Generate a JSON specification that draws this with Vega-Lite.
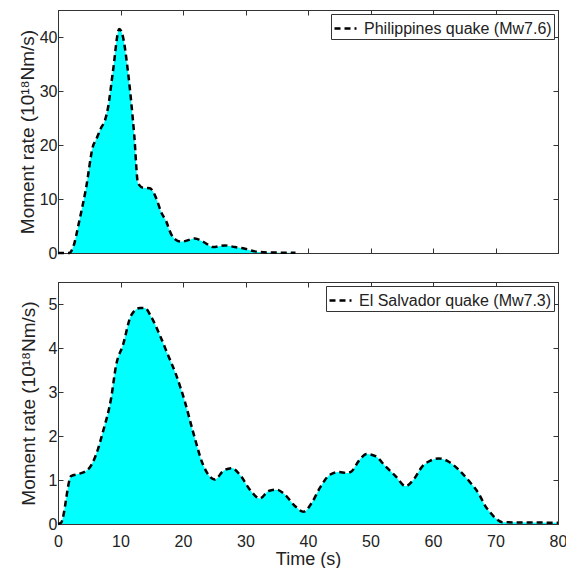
{
  "$schema": "https://vega.github.io/schema/vega-lite/v6.json",
  "padding": {"left": 17, "top": 9, "right": 5, "bottom": 0},
  "spacing": 29,
  "bounds": "flush",
  "config": {
    "font": "Liberation Sans",
    "view": {"stroke": "#333", "strokeWidth": 1},
    "axis": {
      "grid": false,
      "domainColor": "#333",
      "tickColor": "#333",
      "tickSize": -5,
      "labelFont": "Liberation Sans",
      "labelFontSize": 16,
      "labelColor": "#222",
      "labelPadding": 6,
      "titleFont": "Liberation Sans",
      "titleFontWeight": "normal",
      "titleColor": "#222"
    },
    "legend": {
      "orient": "top-right",
      "offset": 4,
      "padding": 2,
      "strokeColor": "#333",
      "fillColor": "white",
      "labelFont": "Liberation Sans",
      "labelFontSize": 16,
      "labelColor": "#222",
      "labelOffset": 6,
      "labelLimit": 0,
      "symbolType": "stroke",
      "symbolSize": 484,
      "symbolStrokeWidth": 2.5,
      "symbolStrokeColor": "black"
    }
  },
  "datasets": {
    "phil": [
      {"t": 0, "v": 0, "quake": "Philippines quake (Mw7.6)"},
      {"t": 1.8, "v": 0, "quake": "Philippines quake (Mw7.6)"},
      {"t": 2.4, "v": 1.0, "quake": "Philippines quake (Mw7.6)"},
      {"t": 3.4, "v": 5.9, "quake": "Philippines quake (Mw7.6)"},
      {"t": 4.5, "v": 12.1, "quake": "Philippines quake (Mw7.6)"},
      {"t": 5.6, "v": 19.8, "quake": "Philippines quake (Mw7.6)"},
      {"t": 6.1, "v": 21.0, "quake": "Philippines quake (Mw7.6)"},
      {"t": 6.9, "v": 23.2, "quake": "Philippines quake (Mw7.6)"},
      {"t": 7.5, "v": 24.5, "quake": "Philippines quake (Mw7.6)"},
      {"t": 8.0, "v": 26.9, "quake": "Philippines quake (Mw7.6)"},
      {"t": 8.8, "v": 33.7, "quake": "Philippines quake (Mw7.6)"},
      {"t": 9.8, "v": 41.5, "quake": "Philippines quake (Mw7.6)"},
      {"t": 10.4, "v": 40.0, "quake": "Philippines quake (Mw7.6)"},
      {"t": 11.2, "v": 33.5, "quake": "Philippines quake (Mw7.6)"},
      {"t": 12.2, "v": 21.8, "quake": "Philippines quake (Mw7.6)"},
      {"t": 12.8, "v": 12.9, "quake": "Philippines quake (Mw7.6)"},
      {"t": 13.6, "v": 12.1, "quake": "Philippines quake (Mw7.6)"},
      {"t": 14.7, "v": 12.0, "quake": "Philippines quake (Mw7.6)"},
      {"t": 15.7, "v": 10.2, "quake": "Philippines quake (Mw7.6)"},
      {"t": 16.5, "v": 7.6, "quake": "Philippines quake (Mw7.6)"},
      {"t": 17.3, "v": 5.9, "quake": "Philippines quake (Mw7.6)"},
      {"t": 18.1, "v": 3.5, "quake": "Philippines quake (Mw7.6)"},
      {"t": 18.9, "v": 2.4, "quake": "Philippines quake (Mw7.6)"},
      {"t": 19.7, "v": 2.1, "quake": "Philippines quake (Mw7.6)"},
      {"t": 20.3, "v": 2.2, "quake": "Philippines quake (Mw7.6)"},
      {"t": 21.9, "v": 2.7, "quake": "Philippines quake (Mw7.6)"},
      {"t": 23.0, "v": 2.2, "quake": "Philippines quake (Mw7.6)"},
      {"t": 23.5, "v": 1.9, "quake": "Philippines quake (Mw7.6)"},
      {"t": 24.8, "v": 1.1, "quake": "Philippines quake (Mw7.6)"},
      {"t": 26.7, "v": 1.4, "quake": "Philippines quake (Mw7.6)"},
      {"t": 28.3, "v": 1.1, "quake": "Philippines quake (Mw7.6)"},
      {"t": 29.9, "v": 0.8, "quake": "Philippines quake (Mw7.6)"},
      {"t": 31.5, "v": 0.3, "quake": "Philippines quake (Mw7.6)"},
      {"t": 33.7, "v": 0.1, "quake": "Philippines quake (Mw7.6)"},
      {"t": 38.0, "v": 0.05, "quake": "Philippines quake (Mw7.6)"}
    ],
    "salv": [
      {"t": 0, "v": 0, "quake": "El Salvador quake (Mw7.3)"},
      {"t": 0.5, "v": 0.03, "quake": "El Salvador quake (Mw7.3)"},
      {"t": 2.1, "v": 1.09, "quake": "El Salvador quake (Mw7.3)"},
      {"t": 3.4, "v": 1.14, "quake": "El Salvador quake (Mw7.3)"},
      {"t": 5.0, "v": 1.27, "quake": "El Salvador quake (Mw7.3)"},
      {"t": 6.1, "v": 1.58, "quake": "El Salvador quake (Mw7.3)"},
      {"t": 7.2, "v": 2.1, "quake": "El Salvador quake (Mw7.3)"},
      {"t": 8.5, "v": 2.86, "quake": "El Salvador quake (Mw7.3)"},
      {"t": 9.3, "v": 3.61, "quake": "El Salvador quake (Mw7.3)"},
      {"t": 10.4, "v": 4.07, "quake": "El Salvador quake (Mw7.3)"},
      {"t": 11.7, "v": 4.74, "quake": "El Salvador quake (Mw7.3)"},
      {"t": 13.1, "v": 4.91, "quake": "El Salvador quake (Mw7.3)"},
      {"t": 13.9, "v": 4.91, "quake": "El Salvador quake (Mw7.3)"},
      {"t": 14.9, "v": 4.71, "quake": "El Salvador quake (Mw7.3)"},
      {"t": 16.3, "v": 4.29, "quake": "El Salvador quake (Mw7.3)"},
      {"t": 17.6, "v": 3.84, "quake": "El Salvador quake (Mw7.3)"},
      {"t": 18.9, "v": 3.39, "quake": "El Salvador quake (Mw7.3)"},
      {"t": 20.3, "v": 2.78, "quake": "El Salvador quake (Mw7.3)"},
      {"t": 21.6, "v": 2.1, "quake": "El Salvador quake (Mw7.3)"},
      {"t": 23.2, "v": 1.35, "quake": "El Salvador quake (Mw7.3)"},
      {"t": 25.1, "v": 1.01, "quake": "El Salvador quake (Mw7.3)"},
      {"t": 26.4, "v": 1.2, "quake": "El Salvador quake (Mw7.3)"},
      {"t": 27.8, "v": 1.27, "quake": "El Salvador quake (Mw7.3)"},
      {"t": 29.1, "v": 1.12, "quake": "El Salvador quake (Mw7.3)"},
      {"t": 30.7, "v": 0.78, "quake": "El Salvador quake (Mw7.3)"},
      {"t": 32.3, "v": 0.58, "quake": "El Salvador quake (Mw7.3)"},
      {"t": 33.7, "v": 0.75, "quake": "El Salvador quake (Mw7.3)"},
      {"t": 35.0, "v": 0.78, "quake": "El Salvador quake (Mw7.3)"},
      {"t": 36.3, "v": 0.67, "quake": "El Salvador quake (Mw7.3)"},
      {"t": 37.9, "v": 0.41, "quake": "El Salvador quake (Mw7.3)"},
      {"t": 39.3, "v": 0.28, "quake": "El Salvador quake (Mw7.3)"},
      {"t": 40.6, "v": 0.48, "quake": "El Salvador quake (Mw7.3)"},
      {"t": 41.9, "v": 0.82, "quake": "El Salvador quake (Mw7.3)"},
      {"t": 43.5, "v": 1.12, "quake": "El Salvador quake (Mw7.3)"},
      {"t": 44.9, "v": 1.18, "quake": "El Salvador quake (Mw7.3)"},
      {"t": 46.2, "v": 1.16, "quake": "El Salvador quake (Mw7.3)"},
      {"t": 47.0, "v": 1.2, "quake": "El Salvador quake (Mw7.3)"},
      {"t": 48.1, "v": 1.43, "quake": "El Salvador quake (Mw7.3)"},
      {"t": 49.4, "v": 1.59, "quake": "El Salvador quake (Mw7.3)"},
      {"t": 50.8, "v": 1.54, "quake": "El Salvador quake (Mw7.3)"},
      {"t": 52.4, "v": 1.31, "quake": "El Salvador quake (Mw7.3)"},
      {"t": 54.0, "v": 1.09, "quake": "El Salvador quake (Mw7.3)"},
      {"t": 55.6, "v": 0.86, "quake": "El Salvador quake (Mw7.3)"},
      {"t": 56.9, "v": 1.01, "quake": "El Salvador quake (Mw7.3)"},
      {"t": 58.3, "v": 1.31, "quake": "El Salvador quake (Mw7.3)"},
      {"t": 59.6, "v": 1.44, "quake": "El Salvador quake (Mw7.3)"},
      {"t": 60.9, "v": 1.49, "quake": "El Salvador quake (Mw7.3)"},
      {"t": 62.6, "v": 1.41, "quake": "El Salvador quake (Mw7.3)"},
      {"t": 64.2, "v": 1.22, "quake": "El Salvador quake (Mw7.3)"},
      {"t": 65.8, "v": 0.97, "quake": "El Salvador quake (Mw7.3)"},
      {"t": 67.4, "v": 0.67, "quake": "El Salvador quake (Mw7.3)"},
      {"t": 68.4, "v": 0.4, "quake": "El Salvador quake (Mw7.3)"},
      {"t": 69.0, "v": 0.29, "quake": "El Salvador quake (Mw7.3)"},
      {"t": 70.0, "v": 0.13, "quake": "El Salvador quake (Mw7.3)"},
      {"t": 71.1, "v": 0.04, "quake": "El Salvador quake (Mw7.3)"},
      {"t": 80.0, "v": 0.03, "quake": "El Salvador quake (Mw7.3)"}
    ]
  },
  "vconcat": [
    {
      "width": 500,
      "height": 243,
      "data": {"name": "phil"},
      "layer": [
        {
          "mark": {"type": "area", "color": "#00FFFF", "interpolate": "monotone", "opacity": 1},
          "encoding": {
            "x": {"field": "t", "type": "quantitative", "scale": {"domain": [0, 80], "nice": false},
                  "axis": {"orient": "bottom", "labels": false, "title": null, "minExtent": 0, "maxExtent": 0, "values": [0, 10, 20, 30, 40, 50, 60, 70, 80]}},
            "y": {"field": "v", "type": "quantitative", "scale": {"domain": [0, 45], "nice": false},
                  "axis": {"orient": "left", "values": [0, 10, 20, 30, 40], "title": "Moment rate (10¹⁸Nm/s)", "titleFontSize": 19, "titlePadding": 2}}
          }
        },
        {
          "mark": {"type": "line", "color": "black", "strokeWidth": 2.5, "interpolate": "monotone"},
          "encoding": {
            "x": {"field": "t", "type": "quantitative", "scale": {"domain": [0, 80], "nice": false},
                  "axis": {"orient": "top", "labels": false, "title": null, "minExtent": 0, "maxExtent": 0, "values": [0, 10, 20, 30, 40, 50, 60, 70, 80]}},
            "y": {"field": "v", "type": "quantitative", "scale": {"domain": [0, 45], "nice": false},
                  "axis": {"orient": "right", "labels": false, "title": null, "minExtent": 0, "maxExtent": 0, "values": [0, 10, 20, 30, 40]}},
            "strokeDash": {"field": "quake", "type": "nominal",
                  "scale": {"domain": ["Philippines quake (Mw7.6)"], "range": [[6, 4]]},
                  "legend": {"title": null}}
          }
        }
      ],
      "resolve": {"axis": {"x": "independent", "y": "independent"}}
    },
    {
      "width": 500,
      "height": 242,
      "data": {"name": "salv"},
      "layer": [
        {
          "mark": {"type": "area", "color": "#00FFFF", "interpolate": "monotone", "opacity": 1},
          "encoding": {
            "x": {"field": "t", "type": "quantitative", "scale": {"domain": [0, 80], "nice": false},
                  "axis": {"orient": "bottom", "title": "Time (s)", "titleFontSize": 18, "titlePadding": 1, "labelPadding": 14, "values": [0, 10, 20, 30, 40, 50, 60, 70, 80], "labelFlush": false}},
            "y": {"field": "v", "type": "quantitative", "scale": {"domain": [0, 5.5], "nice": false},
                  "axis": {"orient": "left", "values": [0, 1, 2, 3, 4, 5], "title": "Moment rate (10¹⁸Nm/s)", "titleFontSize": 19, "titlePadding": 10}}
          }
        },
        {
          "mark": {"type": "line", "color": "black", "strokeWidth": 2.5, "interpolate": "monotone"},
          "encoding": {
            "x": {"field": "t", "type": "quantitative", "scale": {"domain": [0, 80], "nice": false},
                  "axis": {"orient": "top", "labels": false, "title": null, "minExtent": 0, "maxExtent": 0, "values": [0, 10, 20, 30, 40, 50, 60, 70, 80]}},
            "y": {"field": "v", "type": "quantitative", "scale": {"domain": [0, 5.5], "nice": false},
                  "axis": {"orient": "right", "labels": false, "title": null, "minExtent": 0, "maxExtent": 0, "values": [0, 1, 2, 3, 4, 5]}},
            "strokeDash": {"field": "quake", "type": "nominal",
                  "scale": {"domain": ["El Salvador quake (Mw7.3)"], "range": [[6, 4]]},
                  "legend": {"title": null}}
          }
        }
      ],
      "resolve": {"axis": {"x": "independent", "y": "independent"}}
    }
  ],
  "resolve": {"scale": {"strokeDash": "independent"}, "legend": {"strokeDash": "independent"}}
}
